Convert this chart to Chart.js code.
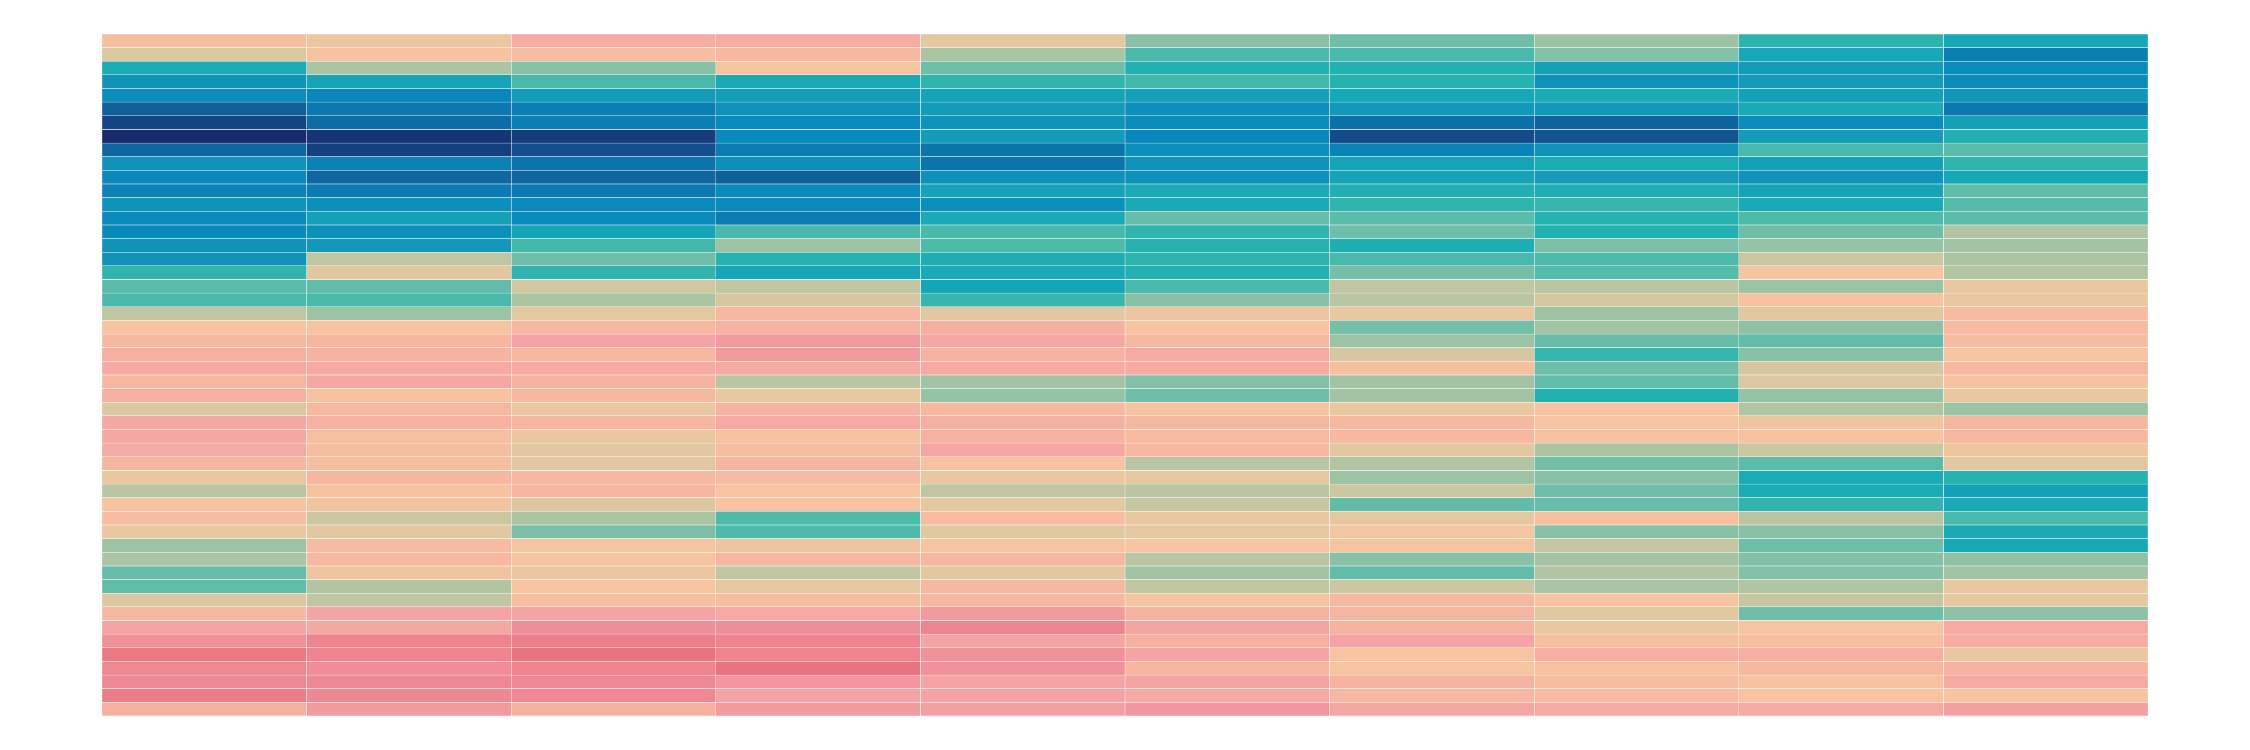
<!DOCTYPE html>
<html>
<head>
<meta charset="utf-8">
<script src="https://cdn.jsdelivr.net/npm/chart.js@4/dist/chart.umd.min.js"></script>
<style>
  html, body { margin: 0; padding: 0; background: #fff; }
</style>
</head>
<body>
<canvas id="heat" width="2250" height="750"></canvas>
<script>
// Heatmap-Werte (0 = dunkelblau, 100 = rosarot), Zeile 1 oben
const colLabels = ['C1', 'C2', 'C3', 'C4', 'C5', 'C6', 'C7', 'C8', 'C9', 'C10'];
const rowLabels = Array.from({ length: 50 }, (_, i) => 'R' + (i + 1));

const col1 = [80, 71, 38, 28, 25, 12, 7, 0, 14, 28, 24, 21, 28, 24, 24, 28, 28, 44, 51, 48,
  66, 78, 83, 86, 88, 83, 86, 71, 89, 89, 88, 84, 74, 65, 78, 81, 74, 61, 63, 53,
  52, 71, 83, 90, 94, 99, 96, 96, 98, 86];
const col2 = [76, 79, 63, 34, 23, 18, 15, 3, 6, 21, 14, 19, 26, 33, 26, 30, 66, 72, 52, 48,
  61, 78, 84, 85, 88, 89, 79, 83, 85, 80, 81, 80, 84, 79, 76, 68, 72, 82, 83, 76,
  64, 66, 90, 89, 97, 97, 95, 96, 96, 92];
const col3 = [87, 81, 58, 48, 31, 20, 20, 5, 9, 17, 14, 18, 24, 24, 34, 47, 54, 44, 69, 63,
  73, 83, 90, 83, 88, 85, 83, 74, 84, 75, 72, 72, 83, 84, 71, 63, 56, 77, 78, 75,
  78, 80, 90, 95, 98, 100, 97, 96, 96, 86];
const col4 = [87, 83, 77, 37, 32, 27, 24, 24, 19, 26, 12, 24, 24, 19, 48, 61, 42, 35, 66, 70,
  83, 85, 92, 92, 88, 65, 74, 85, 88, 79, 81, 84, 82, 78, 78, 49, 49, 76, 84, 66,
  73, 81, 88, 95, 97, 97, 100, 93, 90, 92];
const col5 = [73, 63, 54, 44, 34, 31, 28, 31, 17, 17, 27, 34, 26, 37, 48, 49, 39, 37, 35, 45,
  72, 86, 89, 85, 88, 62, 60, 83, 86, 85, 89, 79, 74, 66, 73, 81, 72, 78, 84, 72,
  83, 83, 92, 97, 90, 94, 94, 90, 90, 91];
const col6 = [58, 48, 41, 47, 33, 26, 25, 23, 26, 28, 27, 37, 37, 53, 44, 42, 43, 41, 48, 58,
  76, 78, 83, 88, 88, 57, 54, 78, 83, 82, 83, 65, 73, 65, 67, 74, 73, 78, 65, 62,
  66, 78, 85, 90, 86, 90, 84, 90, 88, 93];
const col7 = [54, 48, 41, 42, 36, 30, 16, 8, 22, 34, 34, 40, 44, 51, 54, 39, 48, 55, 66, 65,
  74, 55, 61, 70, 80, 62, 62, 74, 83, 83, 72, 64, 61, 68, 52, 73, 77, 78, 58, 52,
  68, 83, 84, 85, 90, 78, 78, 85, 83, 89];
const col8 = [61, 57, 33, 28, 38, 30, 13, 10, 28, 38, 31, 39, 45, 42, 41, 56, 49, 50, 65, 70,
  61, 62, 53, 45, 54, 52, 41, 78, 78, 79, 63, 55, 58, 54, 53, 80, 58, 67, 62, 64,
  63, 78, 72, 74, 80, 86, 79, 81, 82, 88];
const col9 = [43, 36, 31, 31, 33, 37, 25, 31, 48, 33, 28, 34, 37, 49, 54, 60, 68, 78, 61, 79,
  72, 59, 52, 58, 70, 71, 60, 64, 76, 79, 68, 51, 38, 38, 44, 65, 58, 54, 57, 57,
  64, 67, 54, 77, 80, 86, 83, 79, 78, 88];
const col10 = [36, 20, 25, 25, 29, 18, 33, 40, 51, 44, 36, 52, 50, 51, 64, 62, 63, 64, 74, 74,
  82, 82, 82, 78, 83, 79, 74, 61, 84, 83, 76, 72, 42, 33, 37, 48, 37, 36, 59, 62,
  74, 73, 59, 88, 87, 74, 85, 88, 78, 91];

const columns = [col1, col2, col3, col4, col5, col6, col7, col8, col9, col10];

// Farbskala
const stops = [
  [0, '#182a6a'], [6, '#153f7f'], [12, '#0f5f98'], [18, '#0b78b0'], [24, '#0a8abc'],
  [30, '#1298b8'], [36, '#16a8b6'], [42, '#26b2b0'], [48, '#48b9aa'], [54, '#6ebeaa'],
  [60, '#96c2a6'], [66, '#c0c6a2'], [72, '#e2c8a0'], [78, '#f6c4a0'], [84, '#f6b6a0'],
  [90, '#f4a4a4'], [95, '#f08e98'], [100, '#e8747f']
];

function hexToRgb(h) {
  return [parseInt(h.slice(1, 3), 16), parseInt(h.slice(3, 5), 16), parseInt(h.slice(5, 7), 16)];
}

function colorFor(v) {
  for (let i = 1; i < stops.length; i++) {
    if (v <= stops[i][0]) {
      const [v0, c0] = stops[i - 1];
      const [v1, c1] = stops[i];
      const t = (v - v0) / (v1 - v0);
      const a = hexToRgb(c0), b = hexToRgb(c1);
      const rgb = a.map((x, k) => Math.round(x + (b[k] - x) * t));
      return `rgb(${rgb[0]}, ${rgb[1]}, ${rgb[2]})`;
    }
  }
  return stops[stops.length - 1][1];
}

document.addEventListener('DOMContentLoaded', function () {
  const ctx = document.getElementById('heat').getContext('2d');
  new Chart(ctx, {
    type: 'bar',
    data: {
      labels: rowLabels,
      datasets: columns.map((vals, j) => ({
        label: colLabels[j],
        data: vals.map(() => 1),
        backgroundColor: vals.map(colorFor),
        borderColor: '#ffffff',
        borderWidth: 0.5,
        borderSkipped: false,
        barPercentage: 1,
        categoryPercentage: 1
      }))
    },
    options: {
      indexAxis: 'y',
      responsive: false,
      animation: false,
      layout: { padding: { left: 102, right: 102, top: 34, bottom: 34 } },
      plugins: { legend: { display: false }, tooltip: { enabled: false } },
      scales: {
        x: { stacked: true, min: 0, max: 10, display: false },
        y: { stacked: true, display: false }
      }
    }
  });
});
</script>
</body>
</html>
